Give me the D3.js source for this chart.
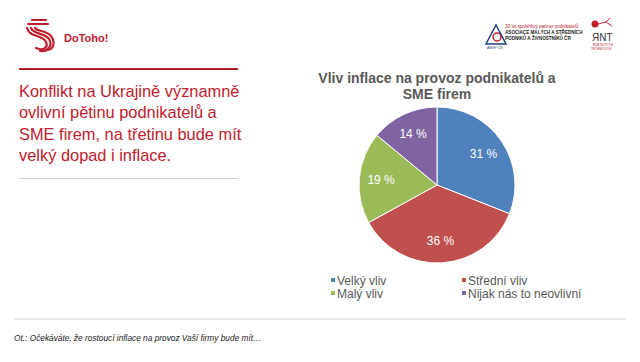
<!DOCTYPE html>
<html>
<head>
<meta charset="utf-8">
<script src="https://cdn.jsdelivr.net/npm/d3@7"></script>
<style>
  body { margin: 0; background: #fff; }
  svg { display: block; font-family: "Liberation Sans", Arial, sans-serif; }
</style>
</head>
<body>
<div id="chart"></div>
<script>
const categories = ["Velký vliv", "Střední vliv", "Malý vliv", "Nijak nás to neovlivní"];
const shares = [31, 36, 19, 14];
const colors = ["#4F81BD", "#C0504D", "#9BBB59", "#8064A2"];
const titleLines = ["Vliv inflace na provoz podnikatelů a", "SME firem"];
const headline = ["Konflikt na Ukrajině významně", "ovlivní pětinu podnikatelů a",
  "SME firem, na třetinu bude mít", "velký dopad i inflace."];
const footnote = "Ot.: Očekáváte, že rostoucí inflace na provoz Vaší firmy bude mít…";

const width = 640, height = 362;
const red = "#C0202D";

const svg = d3.select("#chart").append("svg")
  .attr("width", width).attr("height", height)
  .attr("viewBox", `0 0 ${width} ${height}`);

// --- header logos (rough) ---
const logo = svg.append("g").attr("transform", "translate(26,18)")
  .attr("fill", "none").attr("stroke", red).attr("stroke-width", 2.2).attr("stroke-linecap", "round");
logo.append("path").attr("d", "M6,2 H20 M2,6 H22");
logo.append("path").attr("d", "M1,10 C4,20 16,16 20,24 C23,30 16,33 10,30");
logo.append("path").attr("d", "M5,10 C8,17 18,14 23,21 C27,28 22,34 14,33");
logo.append("path").attr("d", "M9,10 C12,14 20,12 25,18 C30,25 27,31 22,32");
svg.append("text").attr("x", 64).attr("y", 42)
  .attr("fill", red).attr("font-weight", "bold").attr("font-size", 11)
  .text("DoToho!");

// AMSP
svg.append("path").attr("d", "M496,25 L486,44 L506,44 Z")
  .attr("fill", "none").attr("stroke", "#1f3f7f").attr("stroke-width", 1.5);
svg.append("circle").attr("cx", 497).attr("cy", 37).attr("r", 4)
  .attr("fill", "none").attr("stroke", red).attr("stroke-width", 1.5);
svg.append("text").attr("x", 487).attr("y", 49).attr("font-size", 3.5).attr("fill", "#1f3f7f").text("AMSP ČR");
const amsp = [["30 let spolehlivý partner podnikatelů", red, "normal"],
  ["ASOCIACE MALÝCH A STŘEDNÍCH", "#222", "bold"],
  ["PODNIKŮ A ŽIVNOSTNÍKŮ ČR", "#222", "bold"]];
svg.selectAll(".amsp").data(amsp).join("text")
  .attr("x", 505).attr("y", (d, i) => 28 + i * 6)
  .attr("font-size", 4.6).attr("fill", d => d[1]).attr("font-weight", d => d[2])
  .text(d => d[0]);

// RNT
svg.append("circle").attr("cx", 595).attr("cy", 24).attr("r", 3.5).attr("fill", red);
svg.append("path").attr("d", "M598,24 L606,22 L612,26 M606,22 L610,18")
  .attr("stroke", red).attr("fill", "none").attr("stroke-width", 1);
svg.append("text").attr("x", 592).attr("y", 41).attr("font-size", 10).attr("fill", "#333").text("ЯNT");
svg.append("text").attr("x", 593).attr("y", 46).attr("font-size", 3).attr("fill", red).text("RUB NOVÝCH");
svg.append("text").attr("x", 591).attr("y", 50).attr("font-size", 3).attr("fill", red).text("TECHNOLOGIÍ");

// --- left headline ---
svg.append("line").attr("x1", 19).attr("x2", 238).attr("y1", 69).attr("y2", 69)
  .attr("stroke", "#B01E28").attr("stroke-width", 2);
svg.append("g").selectAll("text").data(headline).join("text")
  .attr("x", 19).attr("y", (d, i) => 97 + i * 21.3)
  .attr("fill", red).attr("font-size", 16.4)
  .text(d => d);
svg.append("line").attr("x1", 19).attr("x2", 238).attr("y1", 178.5).attr("y2", 178.5)
  .attr("stroke", "#d9c9cb").attr("stroke-width", 1);

// --- pie ---
const cx = 437, cy = 185, r = 78;
svg.append("g").selectAll("text").data(titleLines).join("text")
  .attr("x", cx).attr("y", (d, i) => 83 + i * 15.5)
  .attr("text-anchor", "middle").attr("font-weight", "bold")
  .attr("font-size", 14).attr("fill", "#595959")
  .text(d => d);

const pie = d3.pie().sort(null).value(d => d);
const arc = d3.arc().innerRadius(0).outerRadius(r);
const labelArc = d3.arc().innerRadius(r * 0.72).outerRadius(r * 0.72);
const gPie = svg.append("g").attr("transform", `translate(${cx},${cy})`);
const arcs = pie(shares);
gPie.selectAll("path").data(arcs).join("path")
  .attr("d", arc).attr("fill", (d, i) => colors[i])
  .attr("stroke", "#fff").attr("stroke-width", 1);
gPie.selectAll("text").data(arcs).join("text")
  .attr("transform", d => `translate(${labelArc.centroid(d)})`)
  .attr("text-anchor", "middle").attr("dy", "0.35em")
  .attr("fill", "#fff").attr("font-size", 12)
  .text(d => `${d.data} %`);

// legend
const legend = svg.append("g").selectAll("g").data(categories).join("g")
  .attr("transform", (d, i) => `translate(${i % 2 ? 462 : 331},${281 + Math.floor(i / 2) * 13})`);
legend.append("rect").attr("x", 0).attr("y", -3).attr("width", 4).attr("height", 4)
  .attr("fill", (d, i) => colors[i]);
legend.append("text").attr("x", 6).attr("y", 0).attr("dy", "0.35em")
  .attr("font-size", 12).attr("fill", "#595959").text(d => d);

// --- footer ---
svg.append("line").attr("x1", 14).attr("x2", 626).attr("y1", 319).attr("y2", 319)
  .attr("stroke", "#dccdcf").attr("stroke-width", 1);
svg.append("text").attr("x", 14).attr("y", 341)
  .attr("font-style", "italic").attr("font-size", 8.3).attr("fill", "#222")
  .text(footnote);
</script>
</body>
</html>
